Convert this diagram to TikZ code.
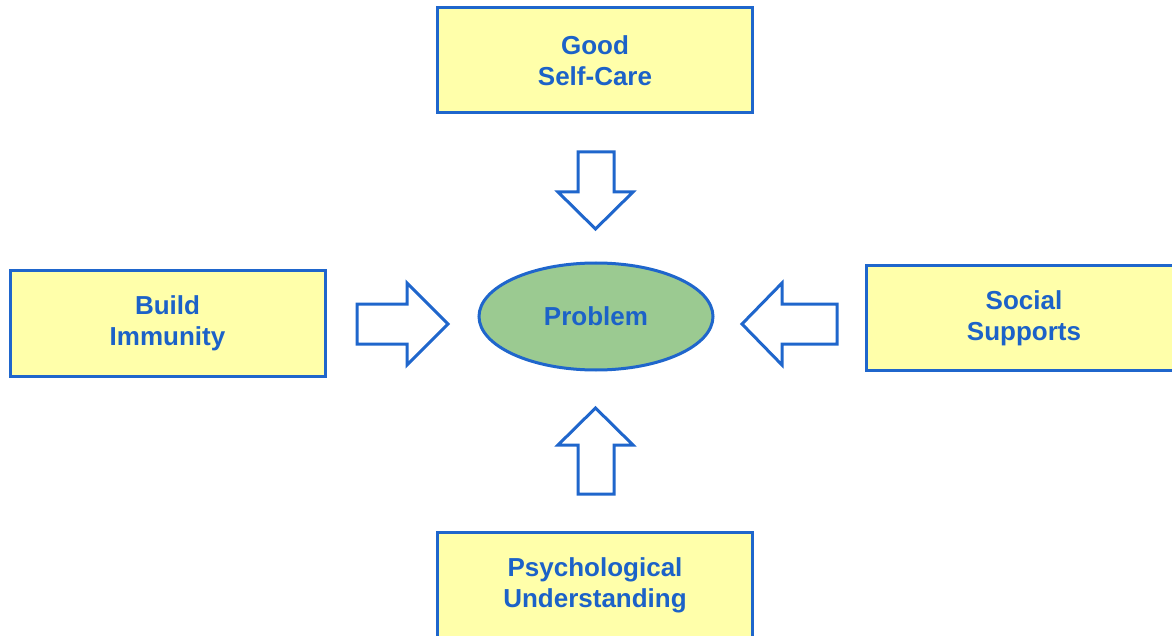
\documentclass[tikz,border=0pt]{standalone}
\usepackage{fontspec}
\setmainfont{Liberation Sans}
\usetikzlibrary{shapes.geometric}
\definecolor{lineblue}{RGB}{31,102,204}
\definecolor{textblue}{RGB}{28,98,200}
\definecolor{boxyellow}{RGB}{255,255,170}
\definecolor{probgreen}{RGB}{155,202,145}
\tikzset{
  box/.style={draw=lineblue, line width=3pt, fill=boxyellow, minimum width=315pt, minimum height=105pt, inner sep=0pt,
    align=center, text=textblue, font=\fontsize{26}{31}\selectfont\bfseries},
  prob/.style={ellipse, draw=lineblue, line width=3pt, fill=probgreen, minimum width=234pt, minimum height=107pt, inner sep=0pt,
    text=textblue, font=\fontsize{26}{31}\selectfont\bfseries},
  blockarrow/.style={draw=lineblue, line width=3pt, fill=white, line join=miter}
}
\begin{document}
\begin{tikzpicture}[x=1pt,y=-1pt]
\useasboundingbox (0,0) rectangle (1172,636);
\fill[white] (0,0) rectangle (1172,636);
\begin{scope}
\clip (0,0) rectangle (1172,636);
\node[box] (top) at (595,60.5) {Good\\Self-Care};
\node[box] (left) at (167.5,323.5) {Build\\Immunity};
\node[box] (right) at (1024,318) {Social\\Supports};
\node[box] (bottom) at (595,585) {Psychological\\Understanding};
\node[prob] (prob) at (596,316.5) {Problem};
% down arrow
\draw[blockarrow] (578,152) -- (614,152) -- (614,192) -- (633,192) -- (595.5,229) -- (558,192) -- (578,192) -- cycle;
% up arrow
\draw[blockarrow] (578,494) -- (614,494) -- (614,445) -- (633,445) -- (595.5,408) -- (558,445) -- (578,445) -- cycle;
% right arrow
\draw[blockarrow] (357,304) -- (407,304) -- (407,283) -- (448,324) -- (407,365) -- (407,344) -- (357,344) -- cycle;
% left arrow
\draw[blockarrow] (837,304) -- (782,304) -- (782,283) -- (742,324) -- (782,365) -- (782,344) -- (837,344) -- cycle;
\end{scope}
\end{tikzpicture}
\end{document}
